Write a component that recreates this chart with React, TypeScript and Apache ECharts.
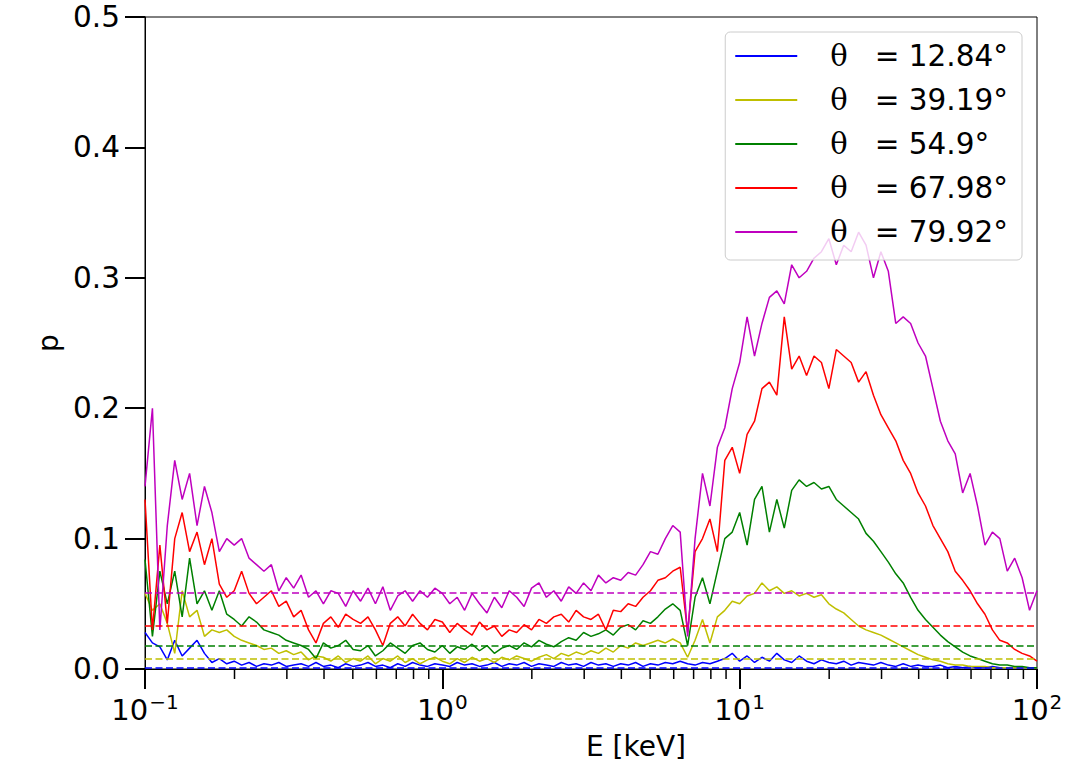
import React, { useEffect, useRef } from "react";
import * as echarts from "echarts";

// energy grid: 40 log-spaced bins per decade, 0.1 .. 100 keV
const N_BINS = 121;
const energies: number[] = Array.from({ length: N_BINS }, (_, i) => Math.pow(10, -1 + i / 40));

const seriesNames = ["θ = 12.84°", "θ = 39.19°", "θ = 54.9°", "θ = 67.98°", "θ = 79.92°"];
const seriesColors = ["#0000ff", "#bfbf00", "#008000", "#ff0000", "#bf00bf"];
const meanLevels = [0.001, 0.0078, 0.0178, 0.033, 0.0585];

const pBlue = [
  0.028, 0.02, 0.017, 0.007, 0.022, 0.01, 0.016, 0.022, 0.012, 0.005,
  0.008, 0.004, 0.006, 0.003, 0.005, 0.002, 0.004, 0.003, 0.005, 0.002,
  0.003, 0.004, 0.002, 0.005, 0.002, 0.003, 0.001, 0.004, 0.002, 0.003,
  0.005, 0.002, 0.003, 0.001, 0.004, 0.002, 0.005, 0.003, 0.002, 0.004,
  0.003, 0.002, 0.005, 0.003, 0.004, 0.002, 0.003, 0.005, 0.002, 0.004,
  0.003, 0.005, 0.002, 0.004, 0.003, 0.002, 0.005, 0.003, 0.004, 0.002,
  0.005, 0.003, 0.004, 0.002, 0.004, 0.003, 0.005, 0.002, 0.004, 0.003,
  0.005, 0.004, 0.006, 0.004, 0.003, 0.005, 0.004, 0.006, 0.008, 0.012,
  0.006, 0.01, 0.005, 0.009, 0.006, 0.012, 0.007, 0.005, 0.01, 0.006,
  0.004, 0.007, 0.005, 0.004, 0.006, 0.003, 0.005, 0.004, 0.003, 0.005,
  0.003, 0.002, 0.004, 0.002, 0.003, 0.002, 0.002, 0.003, 0.001, 0.002,
  0.001, 0.002, 0.001, 0.001, 0.002, 0.001, 0.001, 0.001, 0.001, 0.001,
  0.001,
];

const pYellow = [
  0.058, 0.045, 0.05, 0.035, 0.012, 0.06, 0.04, 0.045, 0.025, 0.03,
  0.028, 0.03, 0.025, 0.022, 0.02, 0.018, 0.015, 0.016, 0.012, 0.014,
  0.011, 0.013, 0.007, 0.01, 0.009, 0.006, 0.01, 0.005, 0.008, 0.006,
  0.01, 0.004, 0.008, 0.006, 0.01, 0.005, 0.008, 0.004, 0.007, 0.009,
  0.006, 0.004, 0.008, 0.005, 0.009, 0.006, 0.008, 0.005, 0.009, 0.007,
  0.01, 0.008, 0.006, 0.009, 0.011, 0.008, 0.012, 0.01, 0.013, 0.011,
  0.014, 0.012, 0.016, 0.013, 0.018, 0.016, 0.02, 0.018, 0.02, 0.022,
  0.02, 0.023, 0.02, 0.009, 0.022, 0.038, 0.02, 0.04, 0.045, 0.052,
  0.05, 0.056, 0.058, 0.066, 0.06, 0.063, 0.058, 0.06, 0.056, 0.058,
  0.055, 0.057, 0.05, 0.046, 0.043, 0.038, 0.033, 0.03, 0.028, 0.026,
  0.023, 0.02, 0.017, 0.014, 0.011, 0.009, 0.007, 0.006, 0.004, 0.003,
  0.003, 0.002, 0.002, 0.002, 0.001, 0.001, 0.001, 0.001, 0.001, 0.001,
  0.001,
];

const pGreen = [
  0.084, 0.025, 0.075, 0.05, 0.075, 0.04, 0.085, 0.05, 0.06, 0.045,
  0.06, 0.042, 0.038, 0.033, 0.04, 0.036, 0.03, 0.028, 0.026, 0.022,
  0.02, 0.018, 0.015, 0.008, 0.02, 0.016, 0.018, 0.022, 0.015, 0.014,
  0.018, 0.01, 0.014, 0.02, 0.016, 0.012, 0.018, 0.02, 0.015, 0.013,
  0.018, 0.012, 0.017, 0.015, 0.019, 0.014, 0.018, 0.012, 0.016, 0.018,
  0.015, 0.02, 0.017, 0.022, 0.019, 0.017, 0.021, 0.024, 0.022, 0.028,
  0.025, 0.027, 0.03, 0.026, 0.032, 0.034, 0.03, 0.037, 0.035, 0.04,
  0.046, 0.05, 0.045, 0.018, 0.055, 0.07, 0.05, 0.075, 0.1, 0.105,
  0.12, 0.095, 0.13, 0.14, 0.105, 0.13, 0.108, 0.137, 0.145, 0.14,
  0.143, 0.138, 0.14, 0.13, 0.125, 0.12, 0.115, 0.104, 0.098, 0.09,
  0.082, 0.073, 0.066, 0.055, 0.045, 0.038, 0.032, 0.026, 0.021, 0.017,
  0.013, 0.01, 0.008, 0.006, 0.004, 0.003, 0.003, 0.002, 0.002, 0.001,
  0.001,
];

const pRed = [
  0.13, 0.03, 0.095, 0.035, 0.1, 0.12, 0.09, 0.105, 0.08, 0.1,
  0.065, 0.055, 0.06, 0.075, 0.058, 0.05, 0.055, 0.06, 0.048, 0.052,
  0.04, 0.045, 0.03, 0.02, 0.035, 0.04, 0.032, 0.042, 0.038, 0.035,
  0.04, 0.03, 0.018, 0.035, 0.04, 0.033, 0.042, 0.035, 0.03, 0.038,
  0.036, 0.028, 0.035, 0.03, 0.026, 0.036, 0.03, 0.033, 0.025, 0.03,
  0.028, 0.034, 0.03, 0.038, 0.035, 0.04, 0.042, 0.036, 0.045, 0.04,
  0.038, 0.042, 0.03, 0.045, 0.044, 0.05, 0.048, 0.055, 0.06, 0.068,
  0.07, 0.075, 0.078, 0.028, 0.09, 0.1, 0.115, 0.09, 0.16, 0.17,
  0.15, 0.18, 0.19, 0.215, 0.22, 0.21, 0.27, 0.23, 0.24, 0.225,
  0.24, 0.235, 0.215, 0.245, 0.24, 0.235, 0.22, 0.228, 0.21, 0.195,
  0.185, 0.175, 0.16, 0.15, 0.135, 0.125, 0.11, 0.1, 0.09, 0.075,
  0.068, 0.06, 0.05, 0.042, 0.03, 0.022, 0.02, 0.015, 0.012, 0.01,
  0.006,
];

const pMagenta = [
  0.14, 0.2, 0.03, 0.11, 0.16, 0.13, 0.15, 0.11, 0.14, 0.12,
  0.09, 0.1, 0.095, 0.1, 0.085, 0.08, 0.075, 0.08, 0.06, 0.07,
  0.062, 0.072, 0.055, 0.06, 0.05, 0.06, 0.058, 0.048, 0.06, 0.052,
  0.062, 0.05, 0.063, 0.045, 0.056, 0.06, 0.052, 0.06, 0.055, 0.062,
  0.058, 0.05, 0.055, 0.045, 0.058, 0.05, 0.043, 0.055, 0.047, 0.06,
  0.055, 0.048, 0.062, 0.066, 0.055, 0.06, 0.052, 0.063, 0.058, 0.066,
  0.06, 0.072, 0.066, 0.07, 0.068, 0.074, 0.072, 0.08, 0.09, 0.088,
  0.1, 0.11, 0.105, 0.025, 0.1, 0.15, 0.125, 0.17, 0.185, 0.215,
  0.235, 0.27, 0.24, 0.265, 0.285, 0.29, 0.28, 0.31, 0.3, 0.305,
  0.315, 0.32, 0.33, 0.31, 0.325, 0.32, 0.335, 0.325, 0.3, 0.32,
  0.305, 0.265, 0.27, 0.265, 0.25, 0.24, 0.215, 0.19, 0.175, 0.165,
  0.135, 0.15, 0.125, 0.095, 0.105, 0.1, 0.075, 0.085, 0.07, 0.045,
  0.06,
];

const seriesValues = [pBlue, pYellow, pGreen, pRed, pMagenta];

const minorTickValues = [
  0.2, 0.3, 0.4, 0.5, 0.6, 0.7, 0.8, 0.9,
  2, 3, 4, 5, 6, 7, 8, 9,
  20, 30, 40, 50, 60, 70, 80, 90,
];

const yTicks = [0, 0.1, 0.2, 0.3, 0.4, 0.5];

const FONT = "DejaVu Sans";

export default function App() {
  const ref = useRef<HTMLDivElement>(null);

  useEffect(() => {
    if (!ref.current) return;
    const chart = echarts.init(ref.current, undefined, { renderer: "svg" });

    const lineSeries = seriesNames.map((name, k) => ({
      name,
      type: "line",
      data: energies.map((e, i) => [e, seriesValues[k][i]]),
      showSymbol: false,
      symbol: "none",
      color: seriesColors[k],
      lineStyle: { width: 1.5, color: seriesColors[k] },
      z: 2 + k * 0.01,
      markLine: {
        silent: true,
        symbol: "none",
        precision: 5,
        label: { show: false },
        lineStyle: { type: [7, 3.5], width: 1.5, color: seriesColors[k] },
        data: [{ yAxis: meanLevels[k] }],
      },
    }));

    const option: any = {
      animation: false,
      textStyle: { fontFamily: FONT },
      grid: {
        left: 145,
        right: 31,
        top: 17,
        bottom: 108,
        show: true,
        borderColor: "#000",
        borderWidth: 1,
        backgroundColor: "transparent",
      },
      xAxis: {
        type: "log",
        logBase: 10,
        min: 0.1,
        max: 100,
        name: "E [keV]",
        nameLocation: "middle",
        nameGap: 62,
        nameTextStyle: { fontSize: 28, color: "#000", fontFamily: FONT, padding: [0, 0, 0, 90] },
        axisLine: { show: true, lineStyle: { color: "#000", width: 1 } },
        axisTick: { show: true, inside: false, length: 20, lineStyle: { color: "#000", width: 2 } },
        splitLine: { show: false },
        minorTick: { show: false },
        axisLabel: {
          margin: 23,
          color: "#000",
          formatter: (v: number) => {
            const ex = Math.round(Math.log10(v));
            const s = ex < 0 ? "\u2212" + Math.abs(ex) : String(ex);
            return `{b|10}{s|${s}}`;
          },
          rich: {
            b: { fontSize: 29, fontFamily: FONT, color: "#000", lineHeight: 36 },
            s: { fontSize: 20, fontFamily: FONT, color: "#000", padding: [0, 0, 16, 1], lineHeight: 36 },
          },
        },
      },
      yAxis: {
        type: "value",
        min: 0,
        max: 0.5,
        interval: 0.1,
        name: "p",
        nameLocation: "middle",
        nameGap: 77,
        nameRotate: 90,
        nameTextStyle: { fontSize: 28, color: "#000", fontFamily: FONT },
        axisLine: { show: true, lineStyle: { color: "#000", width: 1 } },
        axisTick: { show: true, inside: false, length: 20, lineStyle: { color: "#000", width: 2 } },
        splitLine: { show: false },
        axisLabel: {
          margin: 25,
          fontSize: 29.5,
          color: "#000",
          fontFamily: FONT,
          formatter: (v: number) => (yTicks.includes(Math.round(v * 10) / 10) ? v.toFixed(1) : ""),
        },
      },
      legend: {
        data: seriesNames,
        orient: "vertical",
        right: 46,
        top: 32,
        padding: [9, 14, 13, 10],
        itemGap: 14,
        itemWidth: 62,
        itemHeight: 2,
        icon: "rect",
        backgroundColor: "rgba(255,255,255,0.8)",
        borderColor: "#cccccc",
        borderWidth: 1,
        borderRadius: 5,
        formatter: (name: string) => `{t|θ}{v|${name.slice(2)}}`,
        textStyle: {
          color: "#000",
          rich: {
            t: { fontFamily: "DejaVu Serif", fontSize: 29, color: "#000", padding: [0, 27, 0, 28], lineHeight: 28 },
            v: { fontFamily: FONT, fontSize: 29.5, color: "#000", lineHeight: 28 },
          },
        },
      },
      series: [
        ...lineSeries,
        {
          type: "custom",
          name: "minorTicks",
          silent: true,
          clip: false,
          data: minorTickValues.map((v) => [v, 0]),
          encode: { x: 0, y: 1 },
          z: 10,
          renderItem: (params: any, api: any) => {
            const p = api.coord([api.value(0), 0]);
            return {
              type: "line",
              shape: { x1: p[0], y1: p[1], x2: p[0], y2: p[1] + 10 },
              style: { stroke: "#000", lineWidth: 1.5 },
            };
          },
        },
      ],
    };

    chart.setOption(option);
    return () => chart.dispose();
  }, []);

  return (
    <div
      ref={ref}
      style={{ position: "fixed", left: 0, top: 0, width: 1068, height: 777, background: "#fff" }}
    />
  );
}
